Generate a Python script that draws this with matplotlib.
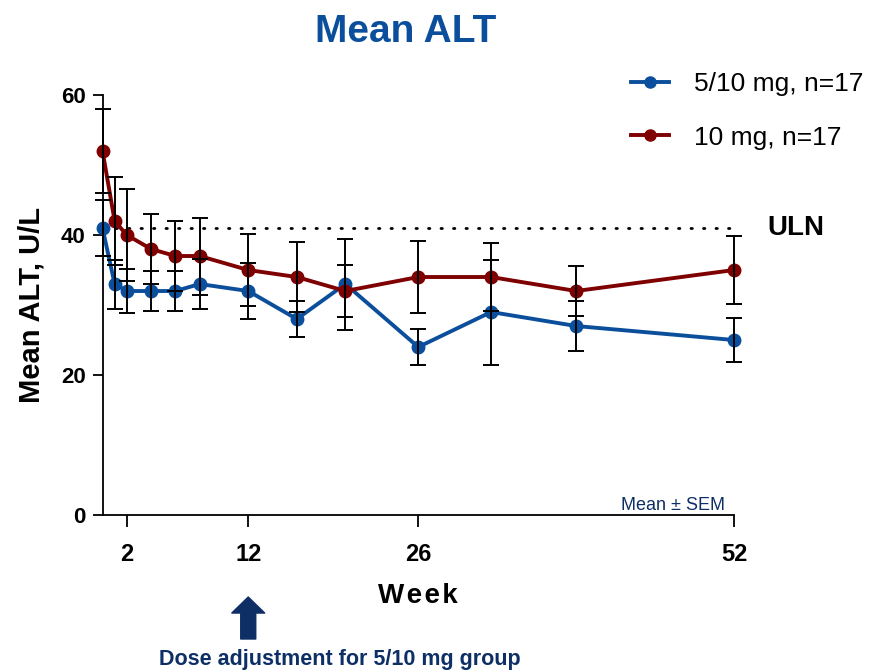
import matplotlib
matplotlib.use('Agg')
import matplotlib.pyplot as plt
from matplotlib.lines import Line2D

# mean ALT by week
weeks = [0, 1, 2, 4, 6, 8, 12, 16, 20, 26, 32, 39, 52]
blue_mean = [41, 33, 32, 32, 32, 33, 32, 28, 33, 24, 29, 27, 25]
blue_sem = [4.0, 3.5, 3.2, 2.8, 2.8, 3.6, 4.0, 2.6, 6.5, 2.6, 7.5, 3.6, 3.1]
red_mean = [52, 42, 40, 38, 37, 37, 35, 34, 32, 34, 34, 32, 35]
red_sem = [6.0, 6.3, 6.6, 5.0, 5.0, 5.5, 5.1, 5.0, 3.7, 5.1, 4.9, 3.6, 4.8]
uln = 41
xticks = [2, 12, 26, 52]
yticks = [0, 20, 40, 60]

config_dict = {
    'blue': {'color': '#0b4f9c', 'label': '5/10 mg, n=17'},
    'red': {'color': '#7f0000', 'label': '10 mg, n=17'},
}
navy = '#0d2f66'

plt.rcParams['font.family'] = ['Liberation Sans', 'DejaVu Sans']

fig = plt.figure(figsize=(8.71, 6.72), dpi=100)
ax = fig.add_axes([0.1177, 0.2336, 0.725, 0.625])

# dotted upper limit of normal
ax.plot([0, 52], [uln, uln], color='black', linewidth=2, linestyle=(0, (0.5, 4)),
        dash_capstyle='round', zorder=1, clip_on=False)

for key, mean, sem in [('blue', blue_mean, blue_sem), ('red', red_mean, red_sem)]:
    c = config_dict[key]['color']
    ax.plot(weeks, mean, color=c, linewidth=2.8, marker='o', markersize=9,
            zorder=3, clip_on=False, label=config_dict[key]['label'])
    ax.errorbar(weeks, mean, yerr=sem, fmt='none', ecolor='black', elinewidth=1.4,
                capsize=5.5, capthick=1.4, zorder=4, clip_on=False)

ax.set_xlim(0, 52)
ax.set_ylim(0, 60)
ax.set_xticks(xticks)
ax.set_yticks(yticks)
ax.spines['top'].set_visible(False)
ax.spines['right'].set_visible(False)
for s in ['left', 'bottom']:
    ax.spines[s].set_linewidth(1.3)
ax.tick_params(axis='x', direction='out', length=8.5, width=1.3, pad=12, labelsize=17)
ax.tick_params(axis='y', direction='out', length=7, width=1.3, pad=5, labelsize=16)
for lab in ax.get_xticklabels() + ax.get_yticklabels():
    lab.set_fontweight('bold')

ax.set_ylabel('Mean ALT, U/L', fontsize=21, fontweight='bold', labelpad=11)
ax.set_xlabel('W\u200ae\u200ae\u200ak', fontsize=20, fontweight='bold', labelpad=12)

ax.annotate('ULN', xy=(52, uln), xytext=(24, 0), textcoords='offset points',
            fontsize=20, fontweight='bold', va='center', ha='left')

fig.text(406 / 871, 1 - 42 / 672, 'Mean ALT', fontsize=28, fontweight='bold',
         color=config_dict['blue']['color'], ha='center', va='baseline')
fig.text(673 / 871, 1 - 505 / 672, 'Mean \u00b1 SEM', fontsize=13, color=navy,
         ha='center', va='center')

# arrow marking the dose adjustment at week 12
ax.annotate('', xy=(12, 75), xycoords=('data', 'figure pixels'),
            xytext=(12, 33), textcoords=('data', 'figure pixels'),
            arrowprops=dict(arrowstyle='simple,head_width=1.58,head_length=0.77,tail_width=0.72',
                            mutation_scale=15, color=navy, shrinkA=0, shrinkB=0))
fig.text(340 / 871, 1 - 660 / 672, 'Dose adjustment for 5/10 mg group', fontsize=15.5,
         fontweight='bold', color=navy, ha='center', va='center')

handles = [Line2D([], [], color=config_dict[k]['color'], linewidth=2.8, marker='o',
                  markersize=8) for k in ['blue', 'red']]
fig.legend(handles, [config_dict[k]['label'] for k in ['blue', 'red']],
           loc='upper left', bbox_to_anchor=(607 / 871, 1 - 48 / 672), frameon=False,
           fontsize=19, handlelength=1.45, handletextpad=0.95, labelspacing=1.13)

fig.savefig('out.png', dpi=100)
